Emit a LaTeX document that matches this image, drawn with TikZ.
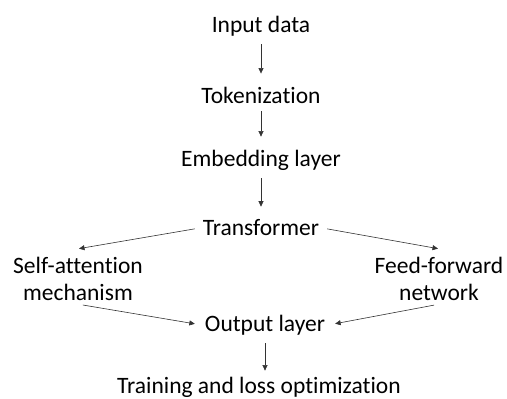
\documentclass[tikz,border=0pt]{standalone}
\usepackage{fontspec}
\setmainfont[Ligatures=NoCommon]{Carlito}
\usetikzlibrary{positioning,arrows.meta}
\tikzset{
  stage/.style={font=\fontsize{23.5}{27.5}\selectfont, inner sep=3pt, align=center},
  flow/.style={-{Triangle[length=5.5pt,width=5pt]}, line width=0.6pt, draw=black!80,
    shorten <=5pt, shorten >=10pt},
  side/.style={flow, shorten <=5pt, shorten >=7pt}
}

\begin{document}
\begin{tikzpicture}[x=1pt, y=1pt]
      \useasboundingbox (0,0) rectangle (507,399);
      \node[stage] (In)    at (261,373) {Input data};
      \node[stage] (Tok)   at (261,304) {Tokenization};
      \node[stage] (Emb)   at (261,239) {Embedding layer};
      \node[stage] (Trans) at (261,171) {Transformer};
      \node[stage] (Self)  at (78,120)  {Self-attention\\mechanism};
      \node[stage] (FF)    at (439,120) {Feed-forward\\network};
      \node[stage] (Out)   at (265,74)  {Output layer};
      \node[stage, inner sep=0pt] (Train) at (259,12) {Training and loss optimization};

      \draw[flow] (In) to (Tok);
      \draw[flow] (Tok) to (Emb);
      \draw[flow] (Emb) to (Trans);
      \draw[side, shorten >=1pt] (Trans.west) to ([yshift=5pt]Self.north);
      \draw[side, shorten >=1pt] (Trans.east) to ([yshift=5pt]FF.north);
      \draw[side] (Self.south) to (Out.west);
      \draw[side] (FF.south) to (Out.east);
      \draw[flow, shorten >=6pt] (Out) to (Out |- Train.north);
    \end{tikzpicture}
\end{document}
